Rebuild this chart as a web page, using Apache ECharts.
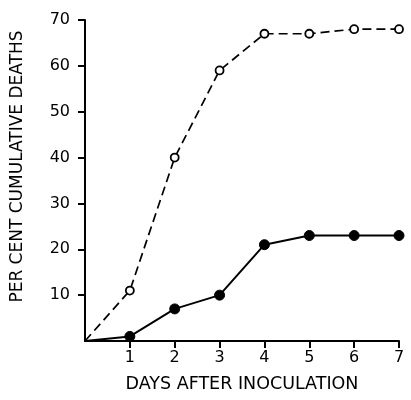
<!DOCTYPE html>
<html><head><meta charset="utf-8">
<script src="https://cdn.jsdelivr.net/npm/echarts@6/dist/echarts.min.js"></script>
<style>html,body{margin:0;padding:0;background:#fff}#c{width:411px;height:400px}</style>
</head><body><div id="c"></div>
<script>
const days = [0, 1, 2, 3, 4, 5, 6, 7];
const openSeries = [0, 11, 40, 59, 67, 67, 68, 68];
const filledSeries = [0, 1, 7, 10, 21, 23, 23, 23];
const xTicks = [1, 2, 3, 4, 5, 6, 7];
const yTicks = [10, 20, 30, 40, 50, 60, 70];
const xTitle = 'DAYS AFTER INOCULATION';
const yTitle = 'PER CENT CUMULATIVE DEATHS';

const chart = echarts.init(document.getElementById('c'));
const font = 'DejaVu Sans';
chart.setOption({
  animation: false,
  grid: {left: 85, top: 20, right: 12, bottom: 59},
  xAxis: {
    type: 'value', min: 0, max: 7, interval: 1,
    name: xTitle, nameLocation: 'middle', nameGap: 34,
    nameTextStyle: {fontFamily: font, fontSize: 17.5, color: '#000'},
    axisLine: {lineStyle: {color: '#000', width: 2}},
    axisTick: {customValues: xTicks, length: 7, inside: false, lineStyle: {color: '#000', width: 2}},
    axisLabel: {customValues: xTicks, fontFamily: font, fontSize: 16, color: '#000', margin: 9},
    splitLine: {show: false}
  },
  yAxis: {
    type: 'value', min: 0, max: 70, interval: 10,
    name: yTitle, nameLocation: 'middle', nameGap: 59, nameRotate: 90,
    nameTextStyle: {fontFamily: font, fontSize: 17, color: '#000', padding: [0, 0, 0, 28]},
    axisLine: {lineStyle: {color: '#000', width: 2}},
    axisTick: {customValues: yTicks, length: 7, lineStyle: {color: '#000', width: 2}},
    axisLabel: {customValues: yTicks, fontFamily: font, fontSize: 16, color: '#000', margin: 15},
    splitLine: {show: false}
  },
  series: [
    {
      type: 'line',
      data: days.map((d, i) => ({value: [d, openSeries[i]], symbolSize: d === 0 ? 0 : 8})),
      symbol: 'circle', showSymbol: true,
      lineStyle: {color: '#000', width: 1.7, type: [9, 5]},
      itemStyle: {color: '#fff', borderColor: '#000', borderWidth: 1.8},
      z: 3
    },
    {
      type: 'line',
      data: days.map((d, i) => ({value: [d, filledSeries[i]], symbolSize: d === 0 ? 0 : 10})),
      symbol: 'circle',
      lineStyle: {color: '#000', width: 2},
      itemStyle: {color: '#000', borderColor: '#000'},
      z: 4
    }
  ]
});
</script></body></html>
